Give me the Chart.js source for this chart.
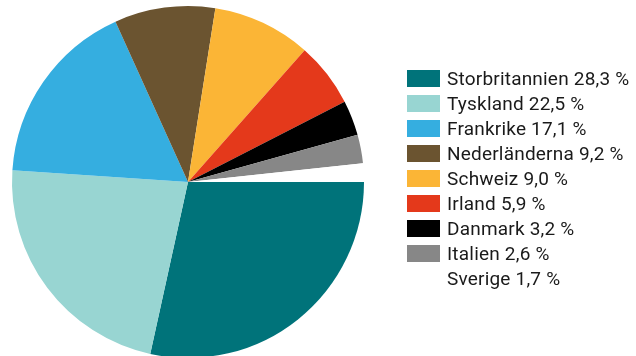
<!DOCTYPE html>
<html>
<head>
<meta charset="utf-8">
<script src="https://cdn.jsdelivr.net/npm/chart.js@4"></script>
<style>
    html, body { margin: 0; padding: 0; background: #fff; }
    #wrap { position: relative; width: 636px; height: 356px; overflow: hidden; }
    #legend { position: absolute; left: 407px; top: 66px; font-family: "Roboto", sans-serif; font-size: 19px; letter-spacing: 0.2px; color: #1a1a1a; }
    .row { display: flex; align-items: center; height: 25px; }
    .box { width: 33px; height: 17px; margin-right: 7px; }
</style>
</head>
<body>
<div id="wrap">
    <canvas id="myChart" width="636" height="362"></canvas>
    <div id="legend"></div>
</div>
<script>
const countries = ['Storbritannien', 'Tyskland', 'Frankrike', 'Nederländerna', 'Schweiz', 'Irland', 'Danmark', 'Italien', 'Sverige']
const shares = [28.3, 22.5, 17.1, 9.2, 9.0, 5.9, 3.2, 2.6, 1.7]
const colors = ['#00737a', '#98d5d2', '#35aee0', '#6b5430', '#fbb536', '#e4391b', '#000000', '#878787', '#ffffff']

window.addEventListener('load', () => {
    drawLegend()
    drawPie()
})

function fmt(v) {
    return v.toFixed(1).replace('.', ',') + ' %'
}

function drawLegend() {
    let legend = document.querySelector('#legend')
    countries.forEach((name, i) => {
        let row = document.createElement('div')
        row.className = 'row'
        row.innerHTML = '<span class="box" style="background:' + colors[i] + '"></span><span>' + name + ' ' + fmt(shares[i]) + '</span>'
        legend.appendChild(row)
    })
}

function drawPie() {
    const config = {
        type: 'pie',
        data: {
            labels: countries,
            datasets: [{
                data: shares,
                backgroundColor: colors,
                borderWidth: 0
            }]
        },
        options: {
            responsive: false,
            animation: false,
            rotation: 90,
            layout: {
                // pie runs a little past the bottom edge, like the original
                padding: { top: 6, bottom: 4, left: 12, right: 272 }
            },
            plugins: {
                legend: { display: false },
                tooltip: { enabled: false }
            }
        }
    }

    let chartCanvas = new Chart(document.querySelector('#myChart'), config)
}
</script>
</body>
</html>
